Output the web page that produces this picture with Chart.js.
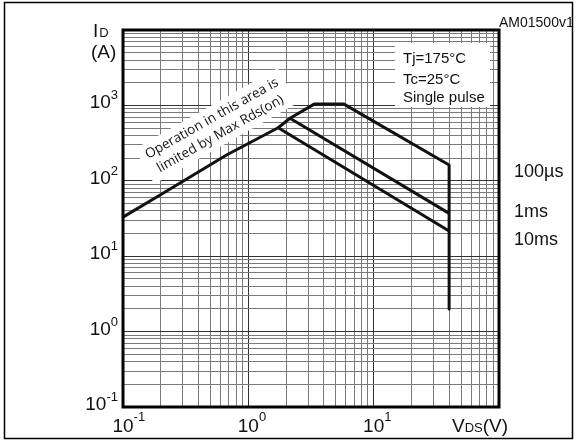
<!DOCTYPE html>
<html>
<head>
<meta charset="utf-8">
<script src="https://cdn.jsdelivr.net/npm/chart.js@4.4.0/dist/chart.umd.min.js"></script>
<style>
  body { margin: 0; background: #fff; }
</style>
</head>
<body>
<canvas id="soaChart" width="576" height="441"></canvas>
<script>
// safe operating area, log-log, VDS (V) vs ID (A)
const xDecades = [-1, 0, 1, 2];        // 0.1 .. 100 V
const yDecades = [-1, 0, 1, 2, 3, 4];  // 0.1 .. 10000 A

const xTickExp = [-1, 0, 1];
const yTickExp = [-1, 0, 1, 2, 3];

const vds10ms = [0.1, 0.204, 0.67, 1.73, 40];
const id10ms  = [33, 67, 220, 506, 21.6];

const vds1ms = [1.73, 2.15, 40];
const id1ms  = [506, 675, 37];

const vds100us = [2.15, 3.35, 5.8, 40, 40];
const id100us  = [675, 1040, 1040, 162, 2];

const seriesNames = ['10ms', '1ms', '100µs'];

const SANS = '"Liberation Sans", Arial, Helvetica, sans-serif';

function logGrid(decades) {
  const out = [];
  for (let i = 0; i < decades.length - 1; i++) {
    for (let k = 1; k <= 9; k++) {
      out.push(parseFloat((k * Math.pow(10, decades[i])).toPrecision(6)));
    }
  }
  out.push(Math.pow(10, decades[decades.length - 1]));
  return out;
}

function pts(xs, ys) {
  return xs.map((x, i) => ({ x: x, y: ys[i] }));
}

function isDecade(v) {
  const l = Math.log10(v);
  return Math.abs(l - Math.round(l)) < 1e-9;
}

function powLabel(ctx, exp, x, y, align, supRise) {
  const big = '19px ' + SANS;
  const small = '13px ' + SANS;
  ctx.font = big;
  const wb = ctx.measureText('10').width;
  ctx.font = small;
  const we = ctx.measureText(String(exp)).width;
  const x0 = align === 'center' ? x - wb / 2 : x - wb - we;
  ctx.textAlign = 'left';
  ctx.textBaseline = 'alphabetic';
  ctx.font = big;
  ctx.fillText('10', x0, y);
  ctx.font = small;
  ctx.fillText(String(exp), x0 + wb, y - supRise);
}

const decorations = {
  id: 'decorations',
  beforeDatasetsDraw(chart) {
    const ctx = chart.ctx;
    ctx.save();
    // condition box
    ctx.fillStyle = '#fff';
    ctx.fillRect(395, 43, 95, 64);

    // rotated note with white band
    ctx.translate(216, 126);
    ctx.rotate(-29.5 * Math.PI / 180);
    ctx.font = '13.5px "Open Sans", "Noto Sans", sans-serif';
    const l1 = 'Operation in this area is';
    const l2 = 'limited by Max Rds(on)';
    const w = Math.max(ctx.measureText(l1).width, ctx.measureText(l2).width) + 14;
    ctx.fillRect(-w / 2, -20, w, 40);
    ctx.fillStyle = '#111';
    ctx.textAlign = 'center';
    ctx.textBaseline = 'middle';
    ctx.fillText(l1, 0, -8.5);
    ctx.fillText(l2, 0, 9);
    ctx.restore();
  },
  afterDraw(chart) {
    const ctx = chart.ctx;
    const a = chart.chartArea;
    const xs = chart.scales.x;
    const ys = chart.scales.y;
    ctx.save();

    // heavy plot frame
    ctx.strokeStyle = '#000';
    ctx.lineWidth = 3;
    ctx.strokeRect(a.left, a.top, a.right - a.left, a.bottom - a.top);

    // outer border
    ctx.lineWidth = 1.5;
    ctx.strokeRect(4.5, 2.5, 568, 436);

    ctx.fillStyle = '#111';
    xTickExp.forEach(e => powLabel(ctx, e, xs.getPixelForValue(Math.pow(10, e)), 432, 'center', 11));
    yTickExp.forEach(e => powLabel(ctx, e, 118, ys.getPixelForValue(Math.pow(10, e)) + 3, 'right', 9));

    ctx.textAlign = 'left';
    ctx.textBaseline = 'alphabetic';
    // axis titles
    ctx.font = '19px ' + SANS;
    ctx.fillText('I', 93, 37);
    const wI = ctx.measureText('I').width;
    ctx.font = '13px ' + SANS;
    ctx.fillText('D', 93 + wI + 1, 37);
    ctx.font = '19px ' + SANS;
    ctx.fillText('(A)', 91, 58);

    let x = 452;
    ctx.fillText('V', x, 432);
    x += ctx.measureText('V').width;
    ctx.font = '13px ' + SANS;
    ctx.fillText('DS', x, 432);
    x += ctx.measureText('DS').width;
    ctx.font = '19px ' + SANS;
    ctx.fillText('(V)', x, 432);

    // curve names
    ctx.font = '18px ' + SANS;
    ctx.fillText(seriesNames[2], 514, 176.5);
    ctx.fillText(seriesNames[1], 514, 217);
    ctx.fillText(seriesNames[0], 514, 245);

    // conditions
    ctx.font = '15px ' + SANS;
    ctx.fillText('Tj=175°C', 403, 63);
    ctx.fillText('Tc=25°C', 403, 84);
    ctx.fillText('Single pulse', 403, 102);

    ctx.font = '14px ' + SANS;
    ctx.fillText('AM01500v1', 499, 27);
    ctx.restore();
  }
};

const lineStyle = {
  borderColor: '#111',
  borderWidth: 3,
  pointRadius: 0,
  tension: 0,
  fill: false,
  showLine: true,
  borderJoinStyle: 'round',
  borderCapStyle: 'butt'
};

const gridStyle = {
  color: ctx => (ctx.tick && isDecade(ctx.tick.value)) ? '#333' : '#7a7a7a',
  lineWidth: 1,
  drawTicks: false
};

new Chart(document.getElementById('soaChart'), {
  type: 'scatter',
  data: {
    datasets: [
      Object.assign({ label: seriesNames[0], data: pts(vds10ms, id10ms) }, lineStyle),
      Object.assign({ label: seriesNames[1], data: pts(vds1ms, id1ms) }, lineStyle),
      Object.assign({ label: seriesNames[2], data: pts(vds100us, id100us) }, lineStyle)
    ]
  },
  options: {
    responsive: false,
    animation: false,
    layout: { padding: { left: 123, right: 77, top: 30, bottom: 34 } },
    plugins: { legend: { display: false }, tooltip: { enabled: false } },
    scales: {
      x: {
        type: 'logarithmic',
        min: Math.pow(10, xDecades[0]),
        max: Math.pow(10, xDecades[xDecades.length - 1]),
        afterBuildTicks: s => { s.ticks = logGrid(xDecades).map(v => ({ value: v })); },
        afterFit: s => { s.height = 0; },
        ticks: { display: false, autoSkip: false },
        grid: gridStyle,
        border: { display: false }
      },
      y: {
        type: 'logarithmic',
        min: Math.pow(10, yDecades[0]),
        max: Math.pow(10, yDecades[yDecades.length - 1]),
        afterBuildTicks: s => { s.ticks = logGrid(yDecades).map(v => ({ value: v })); },
        afterFit: s => { s.width = 0; },
        ticks: { display: false, autoSkip: false },
        grid: gridStyle,
        border: { display: false }
      }
    }
  },
  plugins: [decorations]
});
</script>
</body>
</html>
